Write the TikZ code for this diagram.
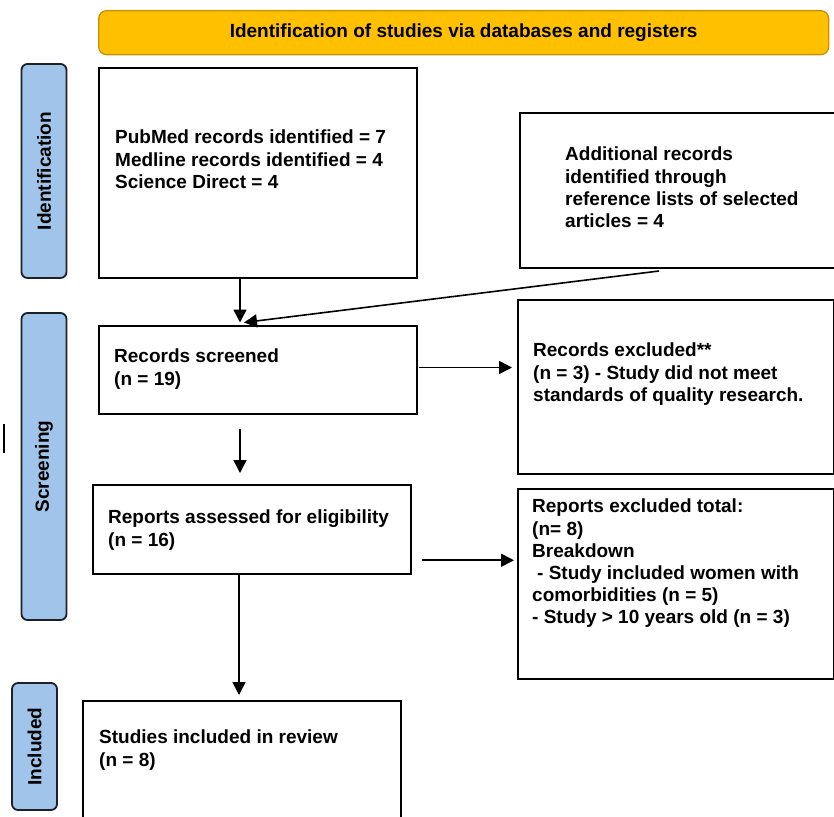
\documentclass[tikz,border=0pt]{standalone}
\usepackage{fontspec}
\setmainfont{Liberation Sans}
\usetikzlibrary{arrows.meta, positioning, calc}
\definecolor{prismagold}{RGB}{255, 192, 0}
\definecolor{prismagoldline}{RGB}{196, 146, 10}
\definecolor{prismablue}{RGB}{160, 196, 234}
\definecolor{prismaline}{RGB}{30, 32, 40}

\begin{document}
\begin{tikzpicture}[x=1pt, y=-1pt,
    every node/.style={font=\bfseries\fontsize{19}{22.2}\selectfont},
    flowbox/.style={draw, line width=2pt, inner sep=0pt, anchor=north west},
    stagebox/.style={draw=prismaline, fill=prismablue, line width=1.8pt,
        rounded corners=6pt, inner sep=0pt, rotate=90, minimum height=45pt},
    boxtext/.style={anchor=north west, inner sep=0pt, align=left},
    flow/.style={-{Triangle[length=13pt,width=13pt]}, line width=1.6pt}]
\useasboundingbox (0,0) rectangle (834,816);

% Header bar
\node[draw=prismagoldline, fill=prismagold, line width=1.3pt, rounded corners=8pt,
    minimum width=730pt, minimum height=44pt, anchor=north west] (header) at (98,10)
    {Identification of studies via databases and registers};

% Stage labels down the left side
\node[stagebox, minimum width=214pt] (stageid) at (44,171) {Identification};
\node[stagebox, minimum width=307pt] (stagescr) at (44,466.5) {Screening};
\node[stagebox, minimum width=127pt] (stageinc) at (34.5,746.5) {Included};
\draw[line width=1.8pt] (4,424) -- (4,453);

% Identification
\node[flowbox, minimum width=318pt, minimum height=210pt] (dbbox) at (98,67) {};
\node[boxtext] (dbtext) at (115,130)
    {PubMed records identified = 7\\Medline records identified = 4\\Science Direct = 4};
\node[flowbox, minimum width=320pt, minimum height=155pt] (addbox) at (519,112) {};
\node[boxtext] (addtext) at (565,147)
    {Additional records\\identified through\\reference lists of selected\\articles = 4};

% Screening
\node[flowbox, minimum width=318pt, minimum height=88pt] (screenbox) at (98,324.5) {};
\node[boxtext] (screentext) at (114,349) {Records screened\\(n = 19)};
\node[flowbox, minimum width=316pt, minimum height=173.5pt] (exclbox) at (517,299) {};
\node[boxtext] (excltext) at (533,343)
    {Records excluded**\\(n = 3) - Study did not meet\\standards of quality research.};
\node[flowbox, minimum width=318pt, minimum height=88.5pt] (assessbox) at (92,484) {};
\node[boxtext] (assesstext) at (108,510) {Reports assessed for eligibility\\(n = 16)};
\node[flowbox, minimum width=316pt, minimum height=190pt] (rexclbox) at (517,487.5) {};
\node[boxtext] (rexcltext) at (532,499)
    {Reports excluded total:\\(n= 8)\\Breakdown\\\hspace*{5pt}- Study included women with\\comorbidities (n = 5)\\- Study > 10 years old (n = 3)};

% Included
\node[flowbox, minimum width=318pt, minimum height=140pt] (inclbox) at (82,700) {};
\node[boxtext] (incltext) at (99,730) {Studies included in review\\(n = 8)};

% Arrows
\draw[flow] ($(dbbox.south)+(-18,0)$) -- ($(screenbox.north)+(-18,-2)$);
\draw[flow] ($(addbox.south)+(-21,2)$) -- ($(screenbox.north)+(-14,-2)$);
\draw[flow] ($(screenbox.east)+(1,-2)$) -- ($(screenbox.east -| exclbox.west)+(-5,-2)$);
\draw[flow] ($(screenbox.south)+(-18,14)$) -- ($(assessbox.north)+(-12,-11)$);
\draw[flow] ($(assessbox.east)+(10,31)$) -- ($(assessbox.east -| rexclbox.west)+(-3,31)$);
\draw[flow] ($(assessbox.south)+(-13,0)$) -- ($(inclbox.north)+(-3,-5)$);
\end{tikzpicture}
\end{document}
